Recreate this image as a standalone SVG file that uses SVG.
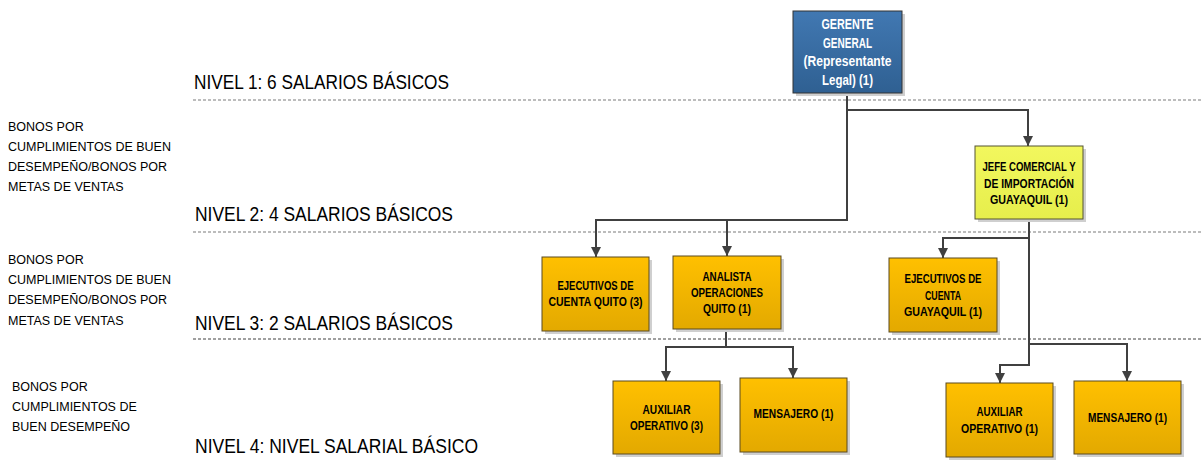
<svg xmlns="http://www.w3.org/2000/svg" width="1202" height="463" viewBox="0 0 1202 463">
<defs>
<linearGradient id="gOr" x1="0" y1="0" x2="0" y2="1"><stop offset="0" stop-color="#ffc000"/><stop offset="1" stop-color="#e3a900"/></linearGradient>
<linearGradient id="gYe" x1="0" y1="0" x2="0" y2="1"><stop offset="0" stop-color="#f2f75e"/><stop offset="1" stop-color="#e6ee4c"/></linearGradient>
<linearGradient id="gBl" x1="0" y1="0" x2="0" y2="1"><stop offset="0" stop-color="#4178b2"/><stop offset="1" stop-color="#2f6092"/></linearGradient>
<marker id="arr" markerUnits="userSpaceOnUse" markerWidth="10" markerHeight="10" refX="10" refY="5" orient="auto"><path d="M0,0 L10,5 L0,10 z" fill="#404040"/></marker>
<style>
.lbl{font-family:"Liberation Sans",Arial,sans-serif;font-size:12.5px;fill:#000}
.niv{font-family:"Liberation Sans",Arial,sans-serif;font-size:19.5px;fill:#000}
.bt{font-family:"Liberation Sans",Arial,sans-serif;font-size:12.8px;font-weight:bold;fill:#000;text-anchor:middle}
.wt{font-family:"Liberation Sans",Arial,sans-serif;font-size:14px;font-weight:bold;fill:#ffffff;text-anchor:middle}
.sh{fill:#cfcfcf}
.or{fill:url(#gOr);stroke:#5a4a20;stroke-width:1}
.ye{fill:url(#gYe);stroke:#555533;stroke-width:1}
.bl{fill:url(#gBl);stroke:#333333;stroke-width:1}
.c{fill:none;stroke:#404040;stroke-width:2;marker-end:url(#arr)}
.d1{stroke:#a6a6a6;stroke-width:1.5;stroke-dasharray:3 2}
.d2{stroke:#404040;stroke-width:1;stroke-dasharray:3 2}
</style>
</defs>
<rect width="1202" height="463" fill="#ffffff"/>

<g id="levels">
<line class="d1" x1="193" y1="100" x2="1202" y2="100"/>
<line class="d1" x1="193" y1="232" x2="1202" y2="232"/>
<line class="d2" x1="193" y1="339" x2="1202" y2="339"/>
<text class="niv" x="194" y="89" textLength="255" lengthAdjust="spacingAndGlyphs">NIVEL 1: 6 SALARIOS BÁSICOS</text>
<text class="niv" x="195" y="221" textLength="258" lengthAdjust="spacingAndGlyphs">NIVEL 2: 4 SALARIOS BÁSICOS</text>
<text class="niv" x="195" y="330" textLength="258" lengthAdjust="spacingAndGlyphs">NIVEL 3: 2 SALARIOS BÁSICOS</text>
<text class="niv" x="195" y="453" textLength="283" lengthAdjust="spacingAndGlyphs">NIVEL 4: NIVEL SALARIAL BÁSICO</text>
</g>

<g id="bonos">
<text class="lbl" x="8" y="131">BONOS POR</text>
<text class="lbl" x="8" y="151">CUMPLIMIENTOS DE BUEN</text>
<text class="lbl" x="8" y="171">DESEMPEÑO/BONOS POR</text>
<text class="lbl" x="8" y="191">METAS DE VENTAS</text>
<text class="lbl" x="8" y="264">BONOS POR</text>
<text class="lbl" x="8" y="284">CUMPLIMIENTOS DE BUEN</text>
<text class="lbl" x="8" y="304">DESEMPEÑO/BONOS POR</text>
<text class="lbl" x="8" y="325">METAS DE VENTAS</text>
<text class="lbl" x="12" y="391">BONOS POR</text>
<text class="lbl" x="12" y="411">CUMPLIMIENTOS DE</text>
<text class="lbl" x="12" y="431">BUEN DESEMPEÑO</text>
</g>

<g id="connectors">
<path class="c" d="M847,93 V110 H1028 V146"/>
<path class="c" d="M847,93 V220 H596 V257"/>
<path class="c" d="M847,220 H727 V256"/>
<path class="c" d="M1029,219 V238 H943 V258"/>
<path class="c" d="M1029,219 V365 H1000 V383"/>
<path class="c" d="M1029,344 H1127 V381"/>
<path class="c" d="M726,329 V347 H666 V381"/>
<path class="c" d="M726,347 H793 V378"/>
</g>

<g id="gerente">
<rect class="sh" x="796" y="14" width="109" height="82"/>
<rect class="bl" x="793" y="11" width="109" height="82"/>
<text class="wt" x="847.5" y="29" textLength="52" lengthAdjust="spacingAndGlyphs">GERENTE</text>
<text class="wt" x="847.5" y="47.5" textLength="49" lengthAdjust="spacingAndGlyphs">GENERAL</text>
<text class="wt" x="847.5" y="66" textLength="88" lengthAdjust="spacingAndGlyphs">(Representante</text>
<text class="wt" x="847.5" y="84.5" textLength="51" lengthAdjust="spacingAndGlyphs">Legal) (1)</text>
</g>

<g id="jefe">
<rect class="sh" x="978" y="149" width="108" height="73"/>
<rect class="ye" x="975" y="146" width="108" height="73"/>
<text class="bt" x="1029" y="171" textLength="93" lengthAdjust="spacingAndGlyphs">JEFE COMERCIAL Y</text>
<text class="bt" x="1029" y="188" textLength="90" lengthAdjust="spacingAndGlyphs">DE IMPORTACIÓN</text>
<text class="bt" x="1029" y="204" textLength="78" lengthAdjust="spacingAndGlyphs">GUAYAQUIL (1)</text>
</g>

<g id="ejecutivos-quito">
<rect class="sh" x="545" y="260" width="107" height="74"/>
<rect class="or" x="542" y="257" width="107" height="74"/>
<text class="bt" x="595.5" y="290" textLength="76" lengthAdjust="spacingAndGlyphs">EJECUTIVOS DE</text>
<text class="bt" x="595.5" y="306" textLength="94" lengthAdjust="spacingAndGlyphs">CUENTA QUITO (3)</text>
</g>

<g id="analista">
<rect class="sh" x="676" y="259" width="108" height="73"/>
<rect class="or" x="673" y="256" width="108" height="73"/>
<text class="bt" x="727" y="281" textLength="49" lengthAdjust="spacingAndGlyphs">ANALISTA</text>
<text class="bt" x="727" y="297" textLength="72" lengthAdjust="spacingAndGlyphs">OPERACIONES</text>
<text class="bt" x="727" y="313" textLength="48" lengthAdjust="spacingAndGlyphs">QUITO (1)</text>
</g>

<g id="ejecutivos-guayaquil">
<rect class="sh" x="892" y="261" width="108" height="74"/>
<rect class="or" x="889" y="258" width="108" height="74"/>
<text class="bt" x="943" y="283" textLength="77" lengthAdjust="spacingAndGlyphs">EJECUTIVOS DE</text>
<text class="bt" x="943" y="300" textLength="36" lengthAdjust="spacingAndGlyphs">CUENTA</text>
<text class="bt" x="943" y="316" textLength="78" lengthAdjust="spacingAndGlyphs">GUAYAQUIL (1)</text>
</g>

<g id="auxiliar-quito">
<rect class="sh" x="616" y="384" width="107" height="73"/>
<rect class="or" x="613" y="381" width="107" height="73"/>
<text class="bt" x="666.5" y="414" textLength="48" lengthAdjust="spacingAndGlyphs">AUXILIAR</text>
<text class="bt" x="666.5" y="430" textLength="73" lengthAdjust="spacingAndGlyphs">OPERATIVO (3)</text>
</g>

<g id="mensajero-quito">
<rect class="sh" x="743" y="381" width="107" height="74"/>
<rect class="or" x="740" y="378" width="107" height="74"/>
<text class="bt" x="793.5" y="418" textLength="80" lengthAdjust="spacingAndGlyphs">MENSAJERO (1)</text>
</g>

<g id="auxiliar-guayaquil">
<rect class="sh" x="949" y="386" width="107" height="74"/>
<rect class="or" x="946" y="383" width="107" height="74"/>
<text class="bt" x="999.5" y="416" textLength="46" lengthAdjust="spacingAndGlyphs">AUXILIAR</text>
<text class="bt" x="999.5" y="433" textLength="77" lengthAdjust="spacingAndGlyphs">OPERATIVO (1)</text>
</g>

<g id="mensajero-guayaquil">
<rect class="sh" x="1077" y="384" width="107" height="73"/>
<rect class="or" x="1074" y="381" width="107" height="73"/>
<text class="bt" x="1127.5" y="422" textLength="79" lengthAdjust="spacingAndGlyphs">MENSAJERO (1)</text>
</g>
</svg>
